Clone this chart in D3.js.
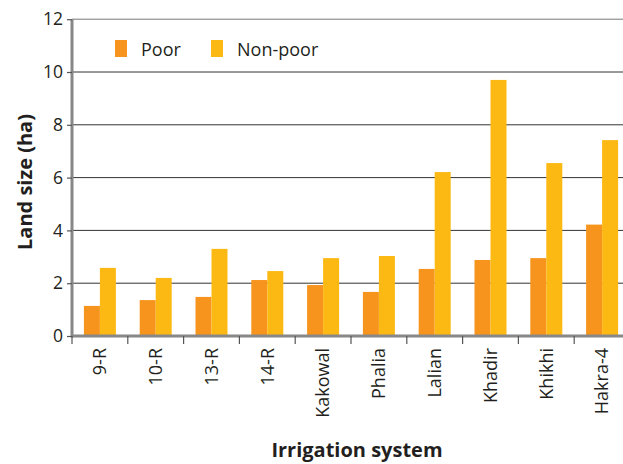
<!DOCTYPE html>
<html><head><meta charset="utf-8">
<script src="https://cdn.jsdelivr.net/npm/d3@7"></script>
<style>body{margin:0;background:#fff;}svg{display:block;}</style>
</head><body>
<svg id="c" width="623" height="464"></svg>
<script>
const categories = ["9-R","10-R","13-R","14-R","Kakowal","Phalia","Lalian","Khadir","Khikhi","Hakra-4"];
const seriesNames = ["Poor","Non-poor"];
const poor =    [1.14,1.36,1.48,2.12,1.93,1.67,2.54,2.88,2.95,4.22];
const nonPoor = [2.58,2.20,3.30,2.46,2.95,3.03,6.21,9.70,6.55,7.42];
const yTicks = [0,2,4,6,8,10,12];
const colors = ["#F7941D","#FDB913"];
const font = "'Open Sans', sans-serif";

const svg = d3.select("#c");
const x0 = 72, x1 = 630, yTop = 19.2, yBot = 336;
const x = d3.scaleBand().domain(categories).range([x0, x1]).padding(0);
const y = d3.scaleLinear().domain([0,12]).range([yBot, yTop]);
const bw = 16;
const sub = d3.scaleBand().domain(seriesNames).range([-bw, bw]).padding(0);

// grid lines
svg.append("g").selectAll("line").data(yTicks.filter(d=>d>0)).join("line")
  .attr("x1", x0).attr("x2", 623).attr("y1", d=>y(d)).attr("y2", d=>y(d))
  .attr("stroke", d=> d===12 ? "#777" : "#333").attr("stroke-width", 1);

// bars
const data = categories.map((c,i)=>({c, vals:[poor[i], nonPoor[i]]}));
const g = svg.append("g").selectAll("g").data(data).join("g")
  .attr("transform", d=>`translate(${x(d.c)+x.bandwidth()/2},0)`);
g.selectAll("rect").data(d=>d.vals.map((v,j)=>({v, s:seriesNames[j], j}))).join("rect")
  .attr("x", d=>sub(d.s)).attr("width", sub.bandwidth())
  .attr("y", d=>y(d.v)).attr("height", d=>yBot - y(d.v))
  .attr("fill", d=>colors[d.j]);

// y axis
const yAxis = svg.append("g").attr("transform", `translate(${x0},0)`)
  .call(d3.axisLeft(y).tickValues(yTicks).tickSize(5).tickPadding(4));
yAxis.select(".domain").attr("stroke","#888").attr("stroke-width",3).attr("d", `M0,${yTop}V${yBot+1.5}`);
yAxis.selectAll(".tick line").attr("stroke","#555").attr("stroke-width",1.2);
yAxis.selectAll(".tick text").attr("font-family", font).attr("font-size", 17.5).attr("fill","#231f20");

// x axis
const xAxis = svg.append("g").attr("transform", `translate(0,${yBot})`)
  .call(d3.axisBottom(x).tickSize(0).tickPadding(0));
xAxis.select(".domain").attr("stroke","#888").attr("stroke-width",3).attr("d", `M${x0},0H623`);
xAxis.selectAll(".tick text")
  .attr("font-family", font).attr("font-size", 18).attr("fill","#231f20")
  .attr("transform","rotate(-90)").attr("text-anchor","end")
  .attr("x", -12).attr("y", 0).attr("dy","0.35em");
// boundary ticks
const bounds = categories.map(c=>x(c));
svg.append("g").selectAll("line").data(bounds).join("line")
  .attr("x1", d=>d).attr("x2", d=>d).attr("y1", yBot).attr("y2", yBot+8)
  .attr("stroke","#555").attr("stroke-width",1.2);

// legend
const legend = svg.append("g");
const lx = [115, 211];
seriesNames.forEach((s,i)=>{
  legend.append("rect").attr("x", lx[i]).attr("y", 40).attr("width", 12).attr("height", 17).attr("fill", colors[i]);
  legend.append("text").attr("x", lx[i]+26).attr("y", 56).text(s)
    .attr("font-family", font).attr("font-size", 18).attr("fill","#231f20");
});

// titles
svg.append("text").attr("transform","translate(32,182) rotate(-90)").attr("text-anchor","middle")
  .attr("font-family", font).attr("font-weight","bold").attr("font-size", 20).attr("fill","#231f20")
  .text("Land size (ha)");
svg.append("text").attr("x", 357).attr("y", 457).attr("text-anchor","middle")
  .attr("font-family", font).attr("font-weight","bold").attr("font-size", 20).attr("fill","#231f20")
  .text("Irrigation system");
</script>
</body></html>
